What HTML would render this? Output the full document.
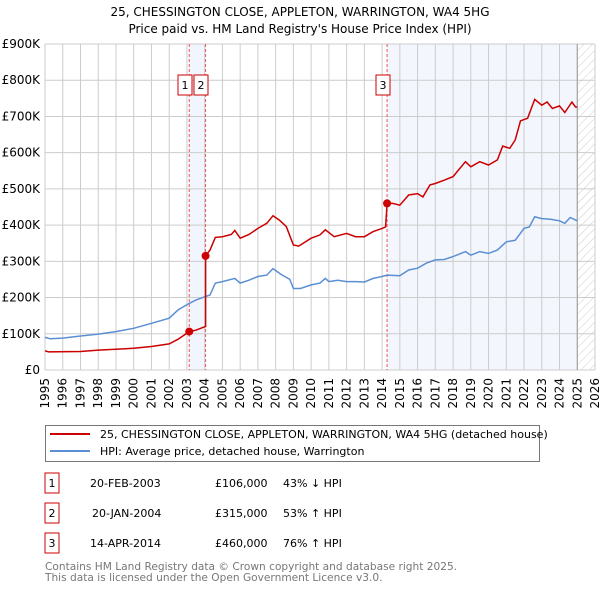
<!DOCTYPE html>
<html><head><meta charset="utf-8"><style>
body{margin:0;background:#fff;font-family:"DejaVu Sans","Liberation Sans",sans-serif;}
#wrap{position:relative;width:600px;height:590px;overflow:hidden;}
svg text{font-family:"DejaVu Sans","Liberation Sans",sans-serif;}
</style></head><body>
<div id="wrap">
<svg id="chart" width="600" height="590">
<defs>
<pattern id="hatch" width="6" height="6" patternUnits="userSpaceOnUse" patternTransform="rotate(45)">
<line x1="0" y1="0" x2="0" y2="6" stroke="#ccc" stroke-width="1"/>
</pattern>
</defs>
<text x="300" y="16" text-anchor="middle" font-size="12">25, CHESSINGTON CLOSE, APPLETON, WARRINGTON, WA4 5HG</text>
<text x="300" y="33" text-anchor="middle" font-size="12">Price paid vs. HM Land Registry's House Price Index (HPI)</text>
</svg>
</div>
<script>
const yTicks=[0,100,200,300,400,500,600,700,800,900];
const yTickLabels=["£0","£100K","£200K","£300K","£400K","£500K","£600K","£700K","£800K","£900K"];
const years=[1995,1996,1997,1998,1999,2000,2001,2002,2003,2004,2005,2006,2007,2008,2009,2010,2011,2012,2013,2014,2015,2016,2017,2018,2019,2020,2021,2022,2023,2024,2025,2026];
const hpiX=[1995,1995.3,1996,1997,1998,1999,2000,2001,2002,2002.5,2003.13,2003.5,2004,2004.3,2004.6,2005,2005.7,2006,2006.5,2007,2007.5,2007.85,2008.3,2008.8,2009,2009.4,2010,2010.5,2010.8,2011,2011.5,2012,2012.5,2013,2013.5,2014,2014.28,2015,2015.5,2016,2016.5,2017,2017.5,2018,2018.7,2019,2019.5,2020,2020.5,2021,2021.5,2022,2022.3,2022.6,2023,2023.5,2024,2024.3,2024.6,2025];
const hpiY=[90,86,88,94,99,106,115,129,143,166,184,193,202,207,240,244,253,240,248,258,262,280,264,250,225,225,235,240,253,244,248,244,244,243,253,258,262,260,276,281,295,304,305,313,327,317,327,322,331,354,358,391,395,423,418,416,412,405,421,412];
const priceX=[1995,1995.2,1997,1998,2000,2001,2002,2002.5,2003.13,2003.5,2004.05,2004.05,2004.3,2004.6,2005,2005.5,2005.7,2006,2006.5,2007,2007.5,2007.85,2008.2,2008.6,2009,2009.3,2009.4,2010,2010.5,2010.8,2011.3,2012,2012.5,2013,2013.5,2014,2014.2,2014.28,2014.6,2015,2015.5,2016,2016.3,2016.7,2017,2017.5,2018,2018.3,2018.7,2019,2019.5,2020,2020.5,2020.8,2021.2,2021.5,2021.8,2022.2,2022.6,2023,2023.3,2023.6,2024,2024.3,2024.7,2024.9,2025];
const priceY=[53,50,51,55,60,65,72,85,106,110,120,315,331,366,368,374,385,364,374,391,405,426,414,396,345,342,345,364,373,387,368,377,368,368,382,391,395,460,460,455,483,487,478,511,515,524,534,552,575,561,575,566,580,618,612,635,688,695,747,731,740,722,729,711,740,726,726];
const saleLabels=["1","2","3"];
const saleX=[2003.13,2004.05,2014.28];
const saleY=[106,315,460];
const dates=["20-FEB-2003","20-JAN-2004","14-APR-2014"];
const prices=["£106,000","£315,000","£460,000"];
const hpiRel=["43% ↓ HPI","53% ↑ HPI","76% ↑ HPI"];

const svg=document.getElementById('chart');
const NS='http://www.w3.org/2000/svg';
const L=45,R=595,T=44,B=370,X0=1995,X1=2026,YMAX=900;
const xs=v=>L+(v-X0)/(X1-X0)*(R-L);
const ys=v=>B-v/YMAX*(B-T);
function mk(tag,attrs,parent){const e=document.createElementNS(NS,tag);for(const k in attrs)e.setAttribute(k,attrs[k]);(parent||svg).appendChild(e);return e;}

let e;
e=mk('rect',{x:xs(saleX[0]),y:T,width:xs(saleX[1])-xs(saleX[0]),height:B-T,fill:'#f1f5fd'});


e=mk('rect',{x:xs(saleX[2]),y:T,width:xs(2025)-xs(saleX[2]),height:B-T,fill:'#f3f6fd'});


e=mk('rect',{x:xs(2025),y:T,width:R-xs(2025),height:B-T,fill:'url(#hatch)'});



yTicks.forEach((v,i)=>{
 e=mk('line',{x1:L,x2:R,y1:ys(v),y2:ys(v),stroke:'#cccccc','stroke-width':1});
 
 
 e=mk('text',{x:40,y:ys(v)+4,'text-anchor':'end','font-size':12,fill:'#000'});
 e.textContent=yTickLabels[i];
 
 
});
years.forEach(y=>{
 e=mk('line',{x1:xs(y),x2:xs(y),y1:T,y2:B,stroke:'#cccccc','stroke-width':1});
 
 
 e=mk('text',{x:0,y:0,'text-anchor':'end','font-size':12,fill:'#000',transform:`translate(${xs(y)+4},378) rotate(-90)`});
 e.textContent=y;
 
 
});
e=mk('line',{x1:xs(2025),x2:xs(2025),y1:T,y2:B,stroke:'#999','stroke-width':1});



saleX.forEach((s,i)=>{
 e=mk('line',{x1:xs(s),x2:xs(s),y1:T,y2:B,stroke:'#ee5555','stroke-width':1,'stroke-dasharray':'3,2'});
 
 
});

const pts=(X,Y)=>X.map((x,i)=>xs(x).toFixed(1)+','+ys(Y[i]).toFixed(1)).join(' ');
e=mk('polyline',{points:pts(hpiX,hpiY),fill:'none',stroke:'#5b8fd4','stroke-width':1.5});


e=mk('polyline',{points:pts(priceX,priceY),fill:'none',stroke:'#cc0000','stroke-width':1.5});



saleX.forEach((s,i)=>{
 e=mk('circle',{cx:xs(s),cy:ys(saleY[i]),r:4,fill:'#cc0000'});
 
 
});
const boxX=[178,194,376];
saleLabels.forEach((t,i)=>{
 e=mk('rect',{x:boxX[i],y:75,width:14,height:20,fill:'#fff',stroke:'#cc0000','stroke-width':1});
 
 
 e=mk('text',{x:boxX[i]+7,y:89,'text-anchor':'middle','font-size':11});
 e.textContent=t;
 
 
});

// legend
e=mk('rect',{x:45.5,y:425.5,width:494,height:36,fill:'#fff',stroke:'#777','stroke-width':1});


e=mk('line',{x1:50,x2:90,y1:434,y2:434,stroke:'#cc0000','stroke-width':2});


e=mk('text',{x:100,y:438,'font-size':11});
e.textContent='25, CHESSINGTON CLOSE, APPLETON, WARRINGTON, WA4 5HG (detached house)';


e=mk('line',{x1:50,x2:90,y1:451,y2:451,stroke:'#5b8fd4','stroke-width':2});


e=mk('text',{x:100,y:455,'font-size':11});
e.textContent='HPI: Average price, detached house, Warrington';



// table
saleLabels.forEach((t,i)=>{
 const cy=483+i*30;
 e=mk('rect',{x:45,y:cy-10,width:14,height:20,fill:'#fff',stroke:'#cc0000','stroke-width':1});
 
 
 e=mk('text',{x:52,y:cy+4,'text-anchor':'middle','font-size':11});
 e.textContent=t;
 
 
 e=mk('text',{x:90+(i==1?2:0),y:cy+4,'font-size':11});
 e.textContent=dates[i];
 
 
 e=mk('text',{x:215,y:cy+4,'font-size':11});
 e.textContent=prices[i];
 
 
 e=mk('text',{x:283,y:cy+4,'font-size':11});
 e.textContent=hpiRel[i];
 
 
});
e=mk('text',{x:45,y:570,'font-size':10.6,fill:'#777'});
e.textContent='Contains HM Land Registry data © Crown copyright and database right 2025.';


e=mk('text',{x:45,y:581,'font-size':10.6,fill:'#777'});
e.textContent='This data is licensed under the Open Government Licence v3.0.';


</script>
</body></html>
